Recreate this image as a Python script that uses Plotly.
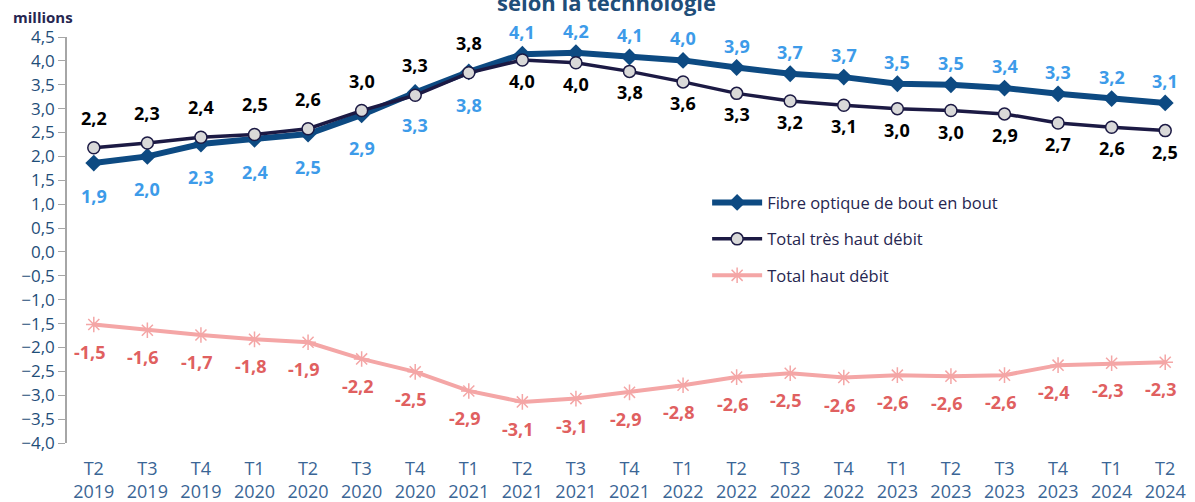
import plotly.graph_objects as go

# quarters shown on the x axis
quarters = ["T2<br>2019", "T3<br>2019", "T4<br>2019", "T1<br>2020", "T2<br>2020", "T3<br>2020",
            "T4<br>2020", "T1<br>2021", "T2<br>2021", "T3<br>2021", "T4<br>2021", "T1<br>2022",
            "T2<br>2022", "T3<br>2022", "T4<br>2022", "T1<br>2023", "T2<br>2023", "T3<br>2023",
            "T4<br>2023", "T1<br>2024", "T2<br>2024"]

# yearly change, millions
fibre = [1.86, 2.00, 2.26, 2.36, 2.47, 2.87, 3.34, 3.77, 4.14, 4.17, 4.08, 4.01, 3.86, 3.73,
         3.66, 3.52, 3.50, 3.43, 3.31, 3.21, 3.12]
tres_haut_debit = [2.18, 2.28, 2.40, 2.46, 2.58, 2.96, 3.28, 3.75, 4.02, 3.96, 3.78, 3.56, 3.32,
                   3.16, 3.07, 3.00, 2.96, 2.89, 2.70, 2.61, 2.54]
haut_debit = [-1.52, -1.64, -1.74, -1.83, -1.89, -2.24, -2.51, -2.91, -3.14, -3.07, -2.94, -2.79,
              -2.62, -2.54, -2.63, -2.58, -2.60, -2.58, -2.37, -2.33, -2.31]

FONT = "Open Sans"
AXIS_GREY = "#a6a6a6"

fig = go.Figure()

fig.add_trace(go.Scatter(
    x=quarters, y=fibre, name="Fibre optique de bout en bout", mode="lines+markers",
    line=dict(color="#0d4a82", width=6),
    marker=dict(symbol="diamond", size=13, color="#0d4a82"),
    legendgroup="a"))

fig.add_trace(go.Scatter(
    x=quarters, y=tres_haut_debit, name="Total très haut débit", mode="lines+markers",
    line=dict(color="#1c1a44", width=3.5),
    marker=dict(symbol="circle", size=12, color="#d9d9d9", line=dict(color="#1c1a44", width=1.5)),
    legendgroup="b"))

fig.add_trace(go.Scatter(
    x=quarters, y=haut_debit, name="Total haut débit", mode="lines+markers",
    line=dict(color="#f4a6a6", width=4),
    marker=dict(symbol="asterisk-open", size=13, color="#f4a6a6", line=dict(color="#f4a6a6", width=1.5)),
    legendgroup="c"))

def fmt(v):
    return f"{v:.1f}".replace(".", ",")

# data labels : fibre below / THD above until T1 2021, swapped afterwards
switch = 8
for i, q in enumerate(quarters):
    fig.add_annotation(x=q, y=fibre[i], text="<b>" + fmt(fibre[i]) + "</b>", showarrow=False,
                       yshift=-33 if i < switch else 22,
                       font=dict(family=FONT, size=18, color="#3d9be9"))
    fig.add_annotation(x=q, y=tres_haut_debit[i], text="<b>" + fmt(tres_haut_debit[i]) + "</b>",
                       showarrow=False, yshift=30 if i < switch else -21,
                       font=dict(family=FONT, size=18, color="#000000"))
    fig.add_annotation(x=q, y=haut_debit[i], text="<b>" + fmt(haut_debit[i]) + "</b>",
                       showarrow=False, yshift=-27, xshift=-4,
                       font=dict(family=FONT, size=18, color="#e06060"))

fig.add_annotation(xref="paper", yref="paper", x=0, y=1, xanchor="left", yanchor="middle",
                   xshift=-56, yshift=20, text="<b>millions</b>", showarrow=False,
                   font=dict(family=FONT, size=15, color="#262650"))
fig.add_annotation(xref="paper", yref="paper", x=0.4796, y=1, xanchor="center", yanchor="middle",
                   yshift=35, text="<b>selon la technologie</b>", showarrow=False,
                   font=dict(family=FONT, size=22, color="#1f4e79"))

fig.update_layout(
    width=1195, height=502,
    margin=dict(l=67, r=3, t=37, b=59),
    plot_bgcolor="white", paper_bgcolor="white",
    separators=", ",
    font=dict(family=FONT),
    showlegend=True,
    legend=dict(x=0.569, y=0.635, xanchor="left", yanchor="top", bgcolor="rgba(0,0,0,0)",
                font=dict(family=FONT, size=16.5, color="#262650"),
                traceorder="grouped", tracegroupgap=12, itemwidth=50),
    xaxis=dict(type="category", range=[-0.5, 20.5], showline=False, ticks="", showgrid=False,
               automargin=False, ticklabelstandoff=13,
               tickfont=dict(family=FONT, size=18, color="#3a6595")),
    xaxis2=dict(overlaying="x", anchor="free", position=4 / 8.5, range=[-0.5, 20.5],
                tick0=-0.5, dtick=1, ticks="outside", ticklen=7, tickcolor=AXIS_GREY,
                showline=True, linecolor=AXIS_GREY, linewidth=1.5, showticklabels=False,
                showgrid=False, zeroline=False, automargin=False),
    yaxis=dict(range=[-4, 4.5], dtick=0.5, tickformat=".1f", showgrid=False, zeroline=False,
               showline=True, linecolor=AXIS_GREY, linewidth=1.5, ticks="outside", ticklen=7,
               automargin=False, tickcolor=AXIS_GREY,
               tickfont=dict(family=FONT, size=17, color="#1f4e79")),
)

# page body margin would push the figure 8px right and down
fig.write_html("out.html", config={"displayModeBar": False},
               post_script="document.body.style.margin='0';")
